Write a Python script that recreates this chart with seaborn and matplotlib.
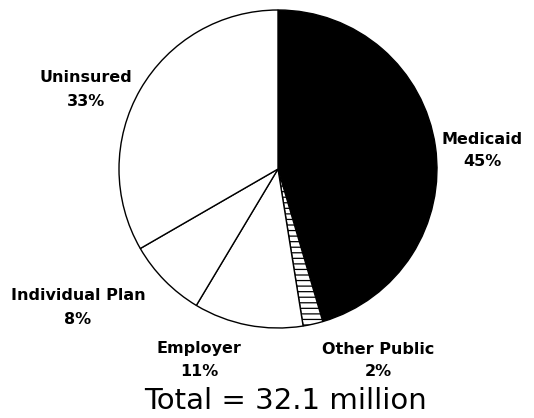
import matplotlib
matplotlib.use("Agg")
import matplotlib.pyplot as plt
import seaborn as sns

sns.set_theme(style="white")
plt.rcParams['font.family'] = ['DejaVu Sans']
plt.rcParams['hatch.linewidth'] = 0.9
plt.rcParams['hatch.color'] = 'black'

categories = ["Medicaid", "Other Public", "Employer", "Individual Plan", "Uninsured"]
shares = [45, 2, 11, 8, 33]
pct_labels = ["45%", "2%", "11%", "8%", "33%"]
colors = ["black", "white", "white", "white", "white"]
hatches = ["", "---", "", "", ""]
total_label = "Total = 32.1 million"

W, H = 534, 418
fig = plt.figure(figsize=(W / 100, H / 100), dpi=100)
fig.patch.set_facecolor("white")

cx, cy, r = 278, 169, 159
ax = fig.add_axes([(cx - r) / W, (H - cy - r) / H, 2 * r / W, 2 * r / H])
wedges, _ = ax.pie(shares, colors=colors, startangle=90, counterclock=False,
                   wedgeprops=dict(edgecolor="black", linewidth=1.0))
for w, h in zip(wedges, hatches):
    if h:
        w.set_hatch(h)
ax.set_xlim(-1.0, 1.0)
ax.set_ylim(-1.0, 1.0)
ax.set_aspect("auto")
ax.axis("off")

# label positions in pixels (center x, name y, pct y, weight)
pos = {
    "Medicaid": (482, 139, 161, "bold"),
    "Other Public": (378, 349, 371, "bold"),
    "Employer": (199, 349, 372, "bold"),
    "Individual Plan": (78, 296, 319, "bold"),
    "Uninsured": (86, 78, 101, "bold"),
}
for name, pct in zip(categories, pct_labels):
    x, y1, y2, wt = pos[name]
    fig.text(x / W, 1 - y1 / H, name, ha="center", va="center",
             fontsize=11.5, fontweight=wt, color="black")
    fig.text(x / W, 1 - y2 / H, pct, ha="center", va="center",
             fontsize=11.5, fontweight=wt, color="black")

fig.text(285 / W, 1 - 401 / H, total_label, ha="center", va="center",
         fontsize=21, color="black")

fig.savefig("out.png", dpi=100, facecolor="white")
